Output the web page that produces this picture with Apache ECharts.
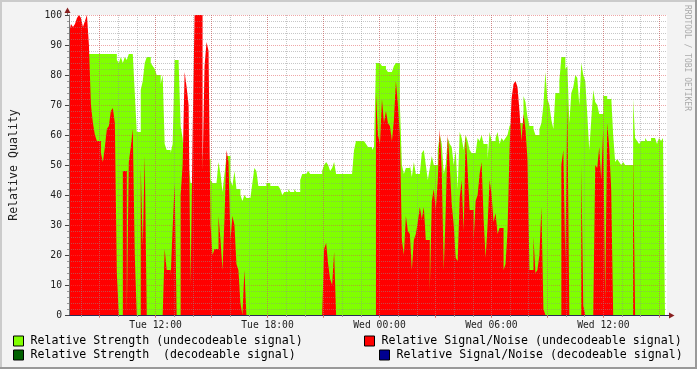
<!DOCTYPE html>
<html><head><meta charset="utf-8">
<script src="https://cdn.jsdelivr.net/npm/echarts@6/dist/echarts.min.js"></script>
<style>html,body{margin:0;padding:0;background:#F3F3F3}#c{width:697px;height:369px}</style>
</head><body><div id="c"></div>
<script>
// time axis in hours since Tue 00:00
const START_HOUR = 7.36;
const END_HOUR = 39.41;
const SAMPLE_SLOTS = 300;

const strength = [
87,87,87,87,87,87,87,87,87,87,
87,87,87,87,87,87,87,87,87,87,
87,87,87,87,85,84,86,84,86,85,
87,87,87,74,61,61,75,78,84,86,
86,84,83,82,80,80,77,80,57,55,
55,54,57,85,85,84,63,59,50,50,
50,44,44,44,44,44,44,53,53,52,
52,45,44,44,44,51,47,41,47,53,
53,45,43,48,42,42,40,38,40,39,
39,39,44,49,48,43,43,43,43,44,
44,43,43,43,43,43,42,40,41,41,
42,41,41,42,41,41,45,47,47,47,
48,47,47,47,47,47,47,48,50,51,
50,48,49,51,47,47,47,47,47,47,
47,47,47,55,58,58,58,58,58,57,
56,56,55,56,84,84,84,83,83,82,
81,81,81,83,84,84,70,50,47,49,
49,50,46,51,47,47,47,54,55,50,
45,49,53,50,50,55,60,57,47,50,
59,57,56,50,55,42,61,59,55,60,
58,55,54,54,54,59,58,60,57,57,
52,61,58,58,59,61,57,59,58,59,
60,63,64,64,64,64,64,64,73,71,
66,63,63,62,60,60,62,64,70,81,
72,70,65,62,74,74,78,86,86,82,
83,64,74,76,80,79,70,84,80,78,
67,55,65,75,71,70,67,67,73,73,
72,72,73,60,51,52,51,50,51,50,
50,50,50,72,59,58,57,58,58,59,
58,58,59,59,59,57,59,58,59
];

const snr = [
94,97,96,97,99,100,99,96,98,100,
90,70,64,60,58,58,54,51,56,62,
63,68,69,64,14,0,0,48,48,0,
51,56,62,20,0,0,49,23,53,0,
0,0,0,0,0,0,0,0,22,15,
15,13,29,44,0,0,40,50,81,76,
70,10,60,100,100,100,100,48,83,91,
88,30,20,22,22,33,25,15,32,55,
51,25,33,30,17,15,4,0,15,0,
0,0,0,0,0,0,0,0,0,0,
0,0,0,0,0,0,0,0,0,0,
0,0,0,0,0,0,0,0,0,0,
0,0,0,0,0,0,0,0,22,24,
17,12,10,21,0,0,0,0,0,0,
0,0,0,0,0,0,0,0,0,0,
0,0,0,0,74,60,57,72,64,68,
64,63,58,65,78,70,60,25,20,33,
28,27,15,25,27,31,36,32,36,25,
25,8,38,42,35,45,62,48,15,35,
60,50,37,30,19,18,39,45,28,60,
48,35,35,25,38,40,47,51,32,19,
30,45,40,31,34,27,29,29,15,17,
28,55,72,77,78,76,68,58,67,62,
52,15,15,26,14,15,20,36,2,0,
0,0,0,0,0,0,0,50,55,18,
71,0,0,0,0,0,0,50,3,0,
0,0,0,0,50,49,56,45,62,5,
64,56,42,0,0,0,0,0,0,0,
0,0,0,54,0,0,0,0,0,0,
0,0,0,0,0,0,0,0,0
];

const strengthDecodeable = [];
const snrDecodeable = [];

const minorHours = [8,9,10,11,12,13,14,15,16,17,18,19,20,21,22,23,24,25,26,27,28,29,30,31,32,33,34,35,36,37,38,39];
const majorHours = [9,12,15,18,21,24,27,30,33,36,39];
const labelHours = [12,18,24,30,36];
const labelTexts = ['Tue 12:00','Tue 18:00','Wed 00:00','Wed 06:00','Wed 12:00'];

const NAMES = [
  'Relative Strength (undecodeable signal)',
  'Relative Strength  (decodeable signal)',
  'Relative Signal/Noise (undecodeable signal)',
  'Relative Signal/Noise (decodeable signal)'
];
const COLORS = ['#80FF00', '#006000', '#FF0000', '#000090'];
const MONO = 'DejaVu Sans Mono';

const stepH = (END_HOUR - START_HOUR) / SAMPLE_SLOTS;
// each sample holds its value over its own time slot (RRD-style steps)
function toStepPoints(arr) {
  const pts = [];
  arr.forEach((v, i) => {
    pts.push([START_HOUR + i * stepH, v]);
    pts.push([START_HOUR + (i + 1) * stepH, v]);
  });
  return pts;
}
function areaSeries(name, color, arr) {
  return {
    name, type: 'line', xAxisIndex: 0, yAxisIndex: 0, data: toStepPoints(arr),
    symbol: 'none', showSymbol: false, silent: true, smooth: false,
    lineStyle: { width: 0, color }, itemStyle: { color },
    areaStyle: { color, opacity: 1 }, z: 2
  };
}

const chart = echarts.init(document.getElementById('c'), null, { renderer: 'canvas' });
const legendBase = {
  orient: 'horizontal', padding: 0, itemWidth: 10, itemHeight: 10, icon: 'rect',
  itemStyle: { borderColor: '#000', borderWidth: 1 },
  textStyle: { fontFamily: MONO, fontSize: 11.6, color: '#000', padding: [0, 0, 0, 2] },
  selectedMode: false
};
chart.setOption({
  animation: false,
  backgroundColor: '#F3F3F3',
  grid: { left: 67, top: 15, width: 600, height: 300, show: true, backgroundColor: '#FFFFFF', borderWidth: 0 },
  xAxis: [
    {
      type: 'value', min: START_HOUR, max: END_HOUR, position: 'bottom', z: 5,
      axisLine: { show: true, lineStyle: { color: '#2b2b55', width: 1 } },
      axisTick: { show: true, customValues: minorHours, length: 2, lineStyle: { color: '#999' } },
      axisLabel: {
        show: true, customValues: labelHours, margin: 5,
        fontFamily: MONO, fontSize: 9.7, color: '#222',
        formatter: v => { const k = labelHours.findIndex(h => Math.abs(h - v) < 1e-6); return k >= 0 ? labelTexts[k] : ''; }
      },
      splitLine: { show: true, lineStyle: { color: 'rgba(143,143,143,0.5)', width: 1, type: [1, 1] } }
    },
    {
      type: 'value', min: START_HOUR, max: END_HOUR, position: 'bottom', z: 6,
      axisLine: { show: false }, axisLabel: { show: false },
      axisTick: { show: true, customValues: majorHours, length: 3, lineStyle: { color: 'rgba(222,80,80,0.6)' } },
      splitLine: { show: true, lineStyle: { color: 'rgba(222,80,80,0.5)', width: 1, type: [1, 1] } }
    }
  ],
  yAxis: {
    type: 'value', min: 0, max: 100, interval: 10, z: 5,
    name: 'Relative Quality', nameLocation: 'middle', nameGap: 49, nameRotate: 90,
    nameTextStyle: { fontFamily: MONO, fontSize: 11.6, color: '#222' },
    axisLine: { show: true, lineStyle: { color: '#777' } },
    axisTick: { show: true, length: 4, lineStyle: { color: '#444' } },
    minorTick: { show: true, splitNumber: 5, length: 2, lineStyle: { color: '#999' } },
    axisLabel: { margin: 7, fontFamily: MONO, fontSize: 9.7, color: '#222' },
    splitLine: { show: true, lineStyle: { color: 'rgba(222,80,80,0.5)', width: 1, type: [1, 1] } },
    minorSplitLine: { show: true, lineStyle: { color: 'rgba(143,143,143,0.5)', width: 1, type: [1, 1] } }
  },
  legend: [
    Object.assign({}, legendBase, { data: [NAMES[0]], left: 13, top: 335 }),
    Object.assign({}, legendBase, { data: [NAMES[1]], left: 13, top: 349 }),
    Object.assign({}, legendBase, { data: [NAMES[2]], left: 364, top: 335 }),
    Object.assign({}, legendBase, { data: [NAMES[3]], left: 379, top: 349 })
  ],
  series: [
    areaSeries(NAMES[0], COLORS[0], strength),
    areaSeries(NAMES[1], COLORS[1], strengthDecodeable),
    areaSeries(NAMES[2], COLORS[2], snr),
    areaSeries(NAMES[3], COLORS[3], snrDecodeable)
  ],
  graphic: [
    { type: 'rect', shape: { x: 0, y: 0, width: 697, height: 2 }, style: { fill: '#CBCBCB' }, silent: true },
    { type: 'rect', shape: { x: 0, y: 0, width: 2, height: 369 }, style: { fill: '#CBCBCB' }, silent: true },
    { type: 'rect', shape: { x: 695, y: 0, width: 2, height: 369 }, style: { fill: '#999999' }, silent: true },
    { type: 'rect', shape: { x: 0, y: 367, width: 697, height: 2 }, style: { fill: '#999999' }, silent: true },
    { type: 'line', shape: { x1: 67.5, y1: 15, x2: 67.5, y2: 11 }, style: { stroke: '#777', lineWidth: 1 }, silent: true, z: 10 },
    { type: 'polygon', shape: { points: [[67.5, 7.5], [70.5, 13], [64.5, 13]] }, style: { fill: '#882020' }, silent: true, z: 10 },
    { type: 'line', shape: { x1: 667, y1: 315.5, x2: 670, y2: 315.5 }, style: { stroke: '#2b2b55', lineWidth: 1 }, silent: true, z: 10 },
    { type: 'polygon', shape: { points: [[674.5, 315.5], [669, 312.5], [669, 318.5]] }, style: { fill: '#882020' }, silent: true, z: 10 },
    {
      type: 'text', x: 687, y: 5, rotation: -Math.PI / 2, silent: true, z: 10,
      style: { text: 'RRDTOOL / TOBI OETIKER', fill: '#AAAAAA', font: '8px "DejaVu Sans Mono"',
        align: 'left', verticalAlign: 'middle', textAlign: 'left', textVerticalAlign: 'middle' }
    }
  ]
});
</script></body></html>
